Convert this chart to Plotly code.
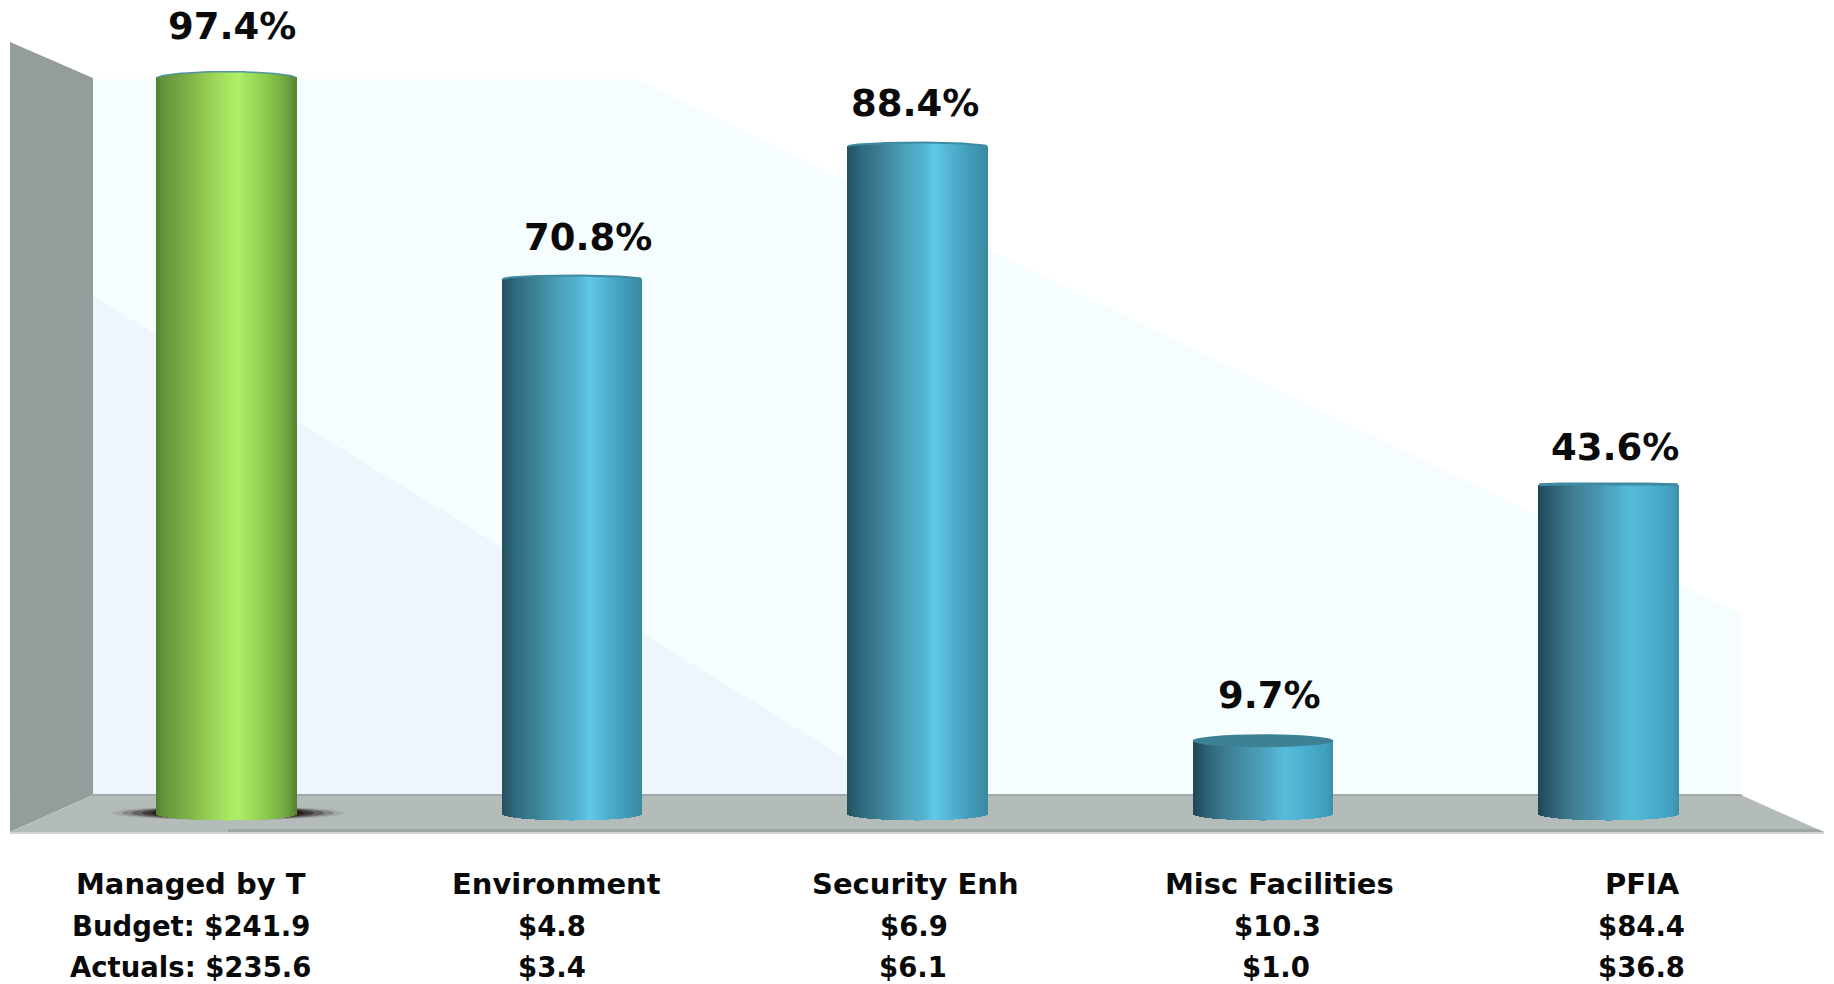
import math
import plotly.graph_objects as go

# Chart data
categories = ["Managed by T", "Environment", "Security Enh", "Misc Facilities", "PFIA"]
budget_labels = ["Budget: $241.9", "$4.8", "$6.9", "$10.3", "$84.4"]
actual_labels = ["Actuals: $235.6", "$3.4", "$6.1", "$1.0", "$36.8"]
percent_spent = [97.4, 70.8, 88.4, 9.7, 43.6]

# Canvas and axis calibration
W, H = 1834, 984
BASE_PX = 814.0       # pixel row of value 0
PX_PER_UNIT = 7.55    # pixels per percentage point
FIRST_CENTER_PX = 226.5
CATEGORY_STEP_PX = 345.5
BAR_WIDTH = 140.5 / CATEGORY_STEP_PX
STRIPS = 71

x_range = [-FIRST_CENTER_PX / CATEGORY_STEP_PX, (W - FIRST_CENTER_PX) / CATEGORY_STEP_PX]
y_range = [(BASE_PX - H) / PX_PER_UNIT, BASE_PX / PX_PER_UNIT]

# Cylinder shading: (position across the bar, colour)
GREEN = [(0, "#4f8230"), (.05, "#64943a"), (.2, "#7cad45"), (.4, "#9ad357"),
         (.58, "#aef068"), (.8, "#86c848"), (.93, "#70a33e"), (1, "#508232")]
BLUE_A = [(0, "#23505f"), (.1, "#2f6a7e"), (.25, "#3d8298"), (.4, "#4aa0b8"),
          (.55, "#52b4d0"), (.62, "#60c8e8"), (.75, "#50b0d0"), (.9, "#4098b4"), (1, "#3a8a9e")]
BLUE_B = [(0, "#1f4754"), (.1, "#2d6072"), (.25, "#3f7f95"), (.4, "#4893ac"),
          (.55, "#4fa9c6"), (.65, "#55bcd8"), (.8, "#4bb0cf"), (.95, "#429fbd"), (1, "#3c8fa8")]
bar_shades = [GREEN, BLUE_A, BLUE_A, BLUE_B, BLUE_B]

top_bulge_px = [7, 4, 4, 0, 1]
rim_colors = ["#4f94a0", "#3f8aa2", "#3f8aa2", "#3f8aa2", "#3f8ba3"]
rim_widths = [1.5, 2, 2, 0, 3]
BOTTOM_BULGE_PX = 6.5
percent_dx = [5.5, 16, -2.5, 6, 6.5]
percent_dy = [52.6, 42, 43, 45, 37]
column_dx = [[-36, -16, -2, 16, 34], [-36, -20, -4, 14, 33], [-36, -20, -5, 13, 33]]


def hex_rgb(c):
    return [int(c[i:i + 2], 16) for i in (1, 3, 5)]


def shade(stops, u):
    for (a, ca), (b, cb) in zip(stops, stops[1:]):
        if u <= b:
            t = (u - a) / (b - a)
            rgb = [round(p + (q - p) * t) for p, q in zip(hex_rgb(ca), hex_rgb(cb))]
            return "rgb({},{},{})".format(*rgb)
    return stops[-1][1]


def px(x):
    return x / W


def py(y):
    return 1 - y / H


def poly(points, fill):
    path = "M " + " L ".join(f"{px(a):.5f},{py(b):.5f}" for a, b in points) + " Z"
    return dict(type="path", xref="paper", yref="paper", path=path, fillcolor=fill,
                line=dict(width=0), layer="below")


# Room: back wall bands, side wall, floor
shapes = [
    poly([(93, 79), (637, 79), (1741, 614), (1741, 795), (93, 795)], "#f5fdff"),
    poly([(93, 296), (905, 795), (93, 795)], "#eef5fd"),
    poly([(10, 42), (93, 78), (93, 795), (10, 832)], "#949d9c"),
    poly([(93, 795), (1741, 795), (1824, 832), (10, 832)], "#b4bcba"),
    poly([(93, 794), (1741, 794), (1743, 796), (93, 796)], "#a3a8ab"),
    poly([(228, 829), (1818, 829), (1824, 832), (228, 832)], "#a0a5a8"),
    poly([(10, 832), (1824, 832), (1824, 834), (10, 834)], "#d0d2d4"),
]

# Soft contact shadow under the first cylinder
for half_w, half_h, alpha in [(116, 7, .10), (106, 6.5, .20), (96, 6, .30), (86, 5.5, .45), (76, 5, .55)]:
    shapes.append(dict(type="circle", xref="paper", yref="paper", layer="below",
                       x0=px(228 - half_w), x1=px(228 + half_w),
                       y0=py(813 + half_h), y1=py(813 - half_h),
                       fillcolor=f"rgba(20,5,5,{alpha})", line=dict(width=0)))

fig = go.Figure()
dx = BAR_WIDTH / STRIPS

for i, value in enumerate(percent_spent):
    us = [(k + .5) / STRIPS for k in range(STRIPS)]
    arc = [math.sqrt(max(0, 1 - (2 * u - 1) ** 2)) for u in us]
    xs = [i + (u - .5) * BAR_WIDTH for u in us]
    bases = [-BOTTOM_BULGE_PX * a / PX_PER_UNIT for a in arc]
    tops = [value + top_bulge_px[i] * a / PX_PER_UNIT for a in arc]
    fig.add_trace(go.Bar(
        x=xs, y=[t - b for t, b in zip(tops, bases)], base=bases, width=dx * 1.15,
        marker=dict(color=[shade(bar_shades[i], u) for u in us], line=dict(width=0)),
        hoverinfo="skip", showlegend=False))
    if rim_widths[i]:
        fig.add_trace(go.Scatter(x=xs, y=tops, mode="lines", hoverinfo="skip", showlegend=False,
                                 line=dict(color=rim_colors[i], width=rim_widths[i])))

# The short cylinder is seen from above, so its lid is visible
short = percent_spent.index(min(percent_spent))
shapes.append(dict(type="circle", xref="x", yref="y", layer="above",
                   x0=short - BAR_WIDTH / 2, x1=short + BAR_WIDTH / 2,
                   y0=percent_spent[short] - 6.5 / PX_PER_UNIT,
                   y1=percent_spent[short] + 6.5 / PX_PER_UNIT,
                   fillcolor="#3c8294", line=dict(width=0)))

annotations = []
FONT = "DejaVu Sans"
for i, value in enumerate(percent_spent):
    annotations.append(dict(x=i, y=value, xref="x", yref="y", text=f"<b>{value}%</b>", showarrow=False,
                            xanchor="center", yanchor="middle",
                            xshift=percent_dx[i], yshift=percent_dy[i],
                            font=dict(family=FONT, size=37, color="#0a0a0a")))
row_sizes = [29, 27.5, 27.5]
for row, (labels, row_px) in enumerate(zip([categories, budget_labels, actual_labels], [884, 926, 967])):
    for i, label in enumerate(labels):
        annotations.append(dict(x=i, y=py(row_px), xref="x", yref="paper", text=f"<b>{label}</b>",
                                showarrow=False, xanchor="center", yanchor="middle",
                                xshift=column_dx[row][i],
                                font=dict(family=FONT, size=row_sizes[row], color="#0a0a0a")))

fig.update_layout(
    width=W, height=H, margin=dict(l=0, r=0, t=0, b=0, pad=0),
    paper_bgcolor="white", plot_bgcolor="rgba(0,0,0,0)",
    barmode="overlay", bargap=0, showlegend=False,
    xaxis=dict(range=x_range, visible=False, fixedrange=True),
    yaxis=dict(range=y_range, visible=False, fixedrange=True),
    shapes=shapes, annotations=annotations,
)

fig.write_html("out.html", config={"displayModeBar": False})
